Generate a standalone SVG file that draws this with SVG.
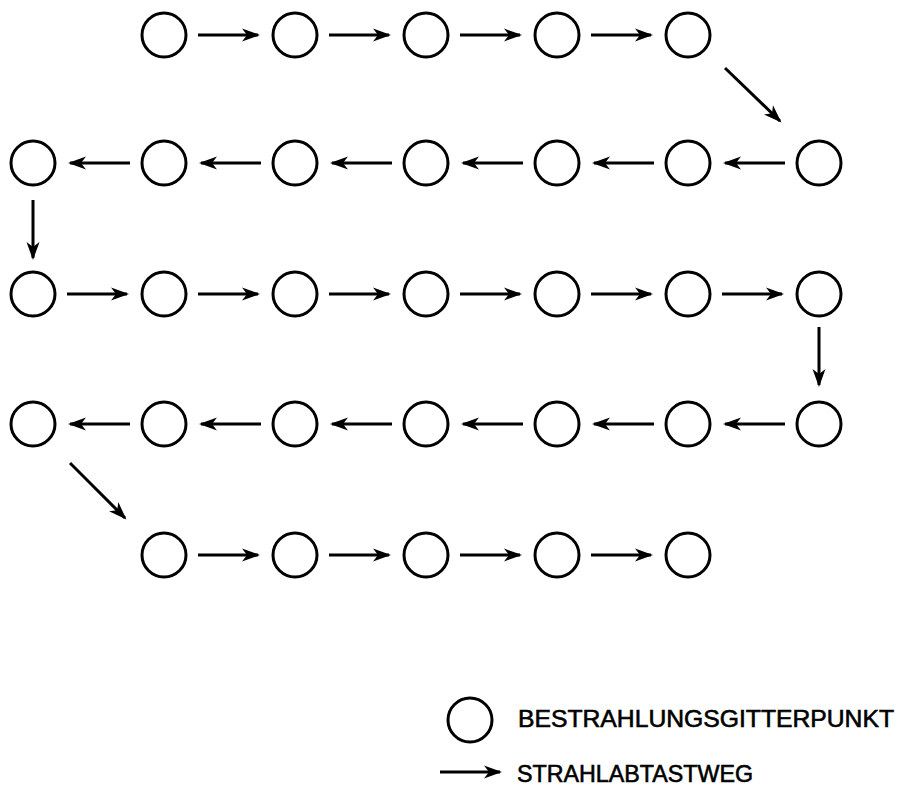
<svg xmlns="http://www.w3.org/2000/svg" width="909" height="798" viewBox="0 0 909 798">
<style>
.n{fill:none;stroke:#000;stroke-width:3}
.c{fill:none;stroke:#000;stroke-width:3;marker-end:url(#ah)}
.t{font-family:"Liberation Sans",Arial,sans-serif;font-size:24px;fill:#000;stroke:#000;stroke-width:0.6}
</style>
<defs>
<marker id="ah" markerUnits="userSpaceOnUse" viewBox="-20 -8 22 16" markerWidth="22" markerHeight="16" refX="-2" refY="0" orient="auto">
<path d="M0,0 L-18,-6.5 L-13,0 L-18,6.5 Z" fill="#000"/>
</marker>
<circle id="pt" r="22" class="n"/>
</defs>
<rect width="909" height="798" fill="#fff"/>
<g id="nodes">
<g id="r1c1"><use href="#pt" x="164" y="35"/></g>
<g id="r1c2"><use href="#pt" x="295" y="35"/></g>
<g id="r1c3"><use href="#pt" x="426" y="35"/></g>
<g id="r1c4"><use href="#pt" x="557" y="35"/></g>
<g id="r1c5"><use href="#pt" x="688" y="35"/></g>
<g id="r2c1"><use href="#pt" x="33" y="163"/></g>
<g id="r2c2"><use href="#pt" x="164" y="163"/></g>
<g id="r2c3"><use href="#pt" x="295" y="163"/></g>
<g id="r2c4"><use href="#pt" x="426" y="163"/></g>
<g id="r2c5"><use href="#pt" x="557" y="163"/></g>
<g id="r2c6"><use href="#pt" x="688" y="163"/></g>
<g id="r2c7"><use href="#pt" x="819" y="163"/></g>
<g id="r3c1"><use href="#pt" x="33" y="294"/></g>
<g id="r3c2"><use href="#pt" x="164" y="294"/></g>
<g id="r3c3"><use href="#pt" x="295" y="294"/></g>
<g id="r3c4"><use href="#pt" x="426" y="294"/></g>
<g id="r3c5"><use href="#pt" x="557" y="294"/></g>
<g id="r3c6"><use href="#pt" x="688" y="294"/></g>
<g id="r3c7"><use href="#pt" x="819" y="294"/></g>
<g id="r4c1"><use href="#pt" x="33" y="424"/></g>
<g id="r4c2"><use href="#pt" x="164" y="424"/></g>
<g id="r4c3"><use href="#pt" x="295" y="424"/></g>
<g id="r4c4"><use href="#pt" x="426" y="424"/></g>
<g id="r4c5"><use href="#pt" x="557" y="424"/></g>
<g id="r4c6"><use href="#pt" x="688" y="424"/></g>
<g id="r4c7"><use href="#pt" x="819" y="424"/></g>
<g id="r5c1"><use href="#pt" x="164" y="555"/></g>
<g id="r5c2"><use href="#pt" x="295" y="555"/></g>
<g id="r5c3"><use href="#pt" x="426" y="555"/></g>
<g id="r5c4"><use href="#pt" x="557" y="555"/></g>
<g id="r5c5"><use href="#pt" x="688" y="555"/></g>
</g>
<g id="connectors">
<path class="c" d="M198,35 H258"/>
<path class="c" d="M329,35 H389"/>
<path class="c" d="M460,35 H520"/>
<path class="c" d="M591,35 H651"/>
<path class="c" d="M725,68 L780,121"/>
<path class="c" d="M785,163 H725"/>
<path class="c" d="M654,163 H594"/>
<path class="c" d="M523,163 H463"/>
<path class="c" d="M392,163 H332"/>
<path class="c" d="M261,163 H201"/>
<path class="c" d="M130,163 H70"/>
<path class="c" d="M33,200 V258"/>
<path class="c" d="M67,294 H127"/>
<path class="c" d="M198,294 H258"/>
<path class="c" d="M329,294 H389"/>
<path class="c" d="M460,294 H520"/>
<path class="c" d="M591,294 H651"/>
<path class="c" d="M722,294 H782"/>
<path class="c" d="M819,327 V385"/>
<path class="c" d="M785,424 H725"/>
<path class="c" d="M654,424 H594"/>
<path class="c" d="M523,424 H463"/>
<path class="c" d="M392,424 H332"/>
<path class="c" d="M261,424 H201"/>
<path class="c" d="M130,424 H70"/>
<path class="c" d="M70,463 L125,518"/>
<path class="c" d="M198,555 H258"/>
<path class="c" d="M329,555 H389"/>
<path class="c" d="M460,555 H520"/>
<path class="c" d="M591,555 H651"/>
</g>
<g id="legend">
<circle cx="470" cy="720" r="22" class="n"/>
<text class="t" x="518" y="727" textLength="376" lengthAdjust="spacingAndGlyphs">BESTRAHLUNGSGITTERPUNKT</text>
<path class="c" d="M440,772 H500"/>
<text class="t" x="517" y="782" textLength="236" lengthAdjust="spacingAndGlyphs">STRAHLABTASTWEG</text>
</g>
</svg>
